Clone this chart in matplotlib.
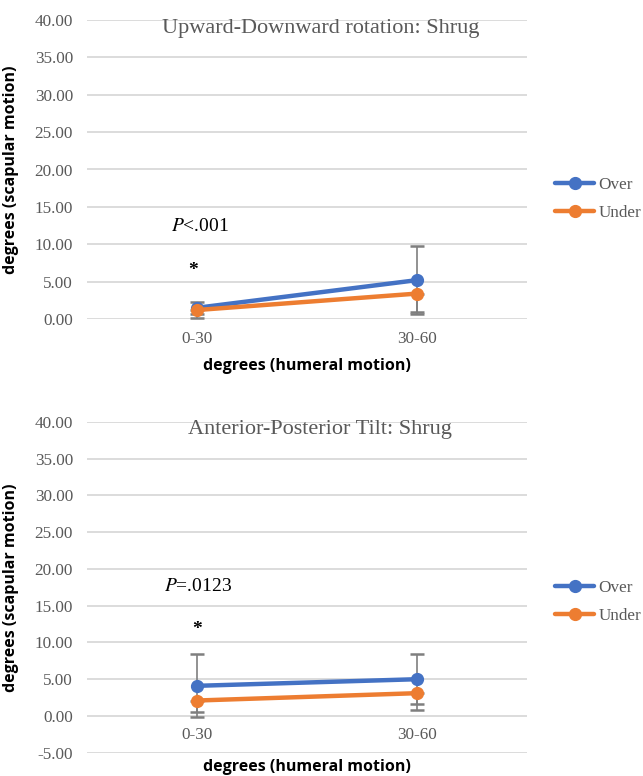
import matplotlib
matplotlib.use("Agg")
import matplotlib.pyplot as plt
from matplotlib.transforms import blended_transform_factory

categories = ["0-30", "30-60"]
series_names = ["Over", "Under"]

top_title = "Upward-Downward rotation: Shrug"
top_over = [1.5, 5.2]
top_over_err = [0.8, 4.5]          # symmetric (+/-)
top_under = [1.2, 3.4]
top_under_err_minus = [1.1, 2.5]   # minus only
top_p = "<.001"
top_yticks = [0, 5, 10, 15, 20, 25, 30, 35, 40]

bot_title = "Anterior-Posterior Tilt: Shrug"
bot_over = [4.1, 5.0]
bot_over_err = [4.3, 3.4]
bot_under = [2.1, 3.1]
bot_under_err_minus = [1.5, 2.3]
bot_p = "=.0123"
bot_yticks = [-5, 0, 5, 10, 15, 20, 25, 30, 35, 40]

xlabel = "degrees (humeral motion)"
ylabel = "degrees (scapular motion)"

BLUE = "#4472C4"
ORANGE = "#ED7D31"
GRID = "#D9D9D9"
TXT = "#595959"
ERR = "#7F7F7F"
SERIF = "Liberation Serif"
SANS = "Open Sans"

W, H = 643, 776
fig = plt.figure(figsize=(W / 100, H / 100), dpi=100)


def panel(rect, ylim, yticks, title, over, over_err, under, under_err_minus, ptext,
          p_xy, star_xy, title_y, label_y, legend_y, xlabel_y):
    ax = fig.add_axes(rect)
    x = list(range(len(categories)))
    ax.set_xlim(-0.5, len(categories) - 0.5)
    ax.set_ylim(*ylim)
    for s in ax.spines.values():
        s.set_visible(False)
    ax.set_yticks(yticks)
    ax.set_yticklabels([f"{v:.2f}" for v in yticks], fontfamily=SERIF,
                       fontsize=12.3, color=TXT)
    ax.tick_params(axis="y", length=0, pad=10)
    ax.set_xticks([])
    ax.grid(axis="y", color=GRID, linewidth=1.3)
    ax.set_axisbelow(True)
    # error bars
    ax.errorbar(x, over, yerr=over_err, fmt="none", ecolor=ERR,
                elinewidth=1.2, capsize=5, capthick=1.8, zorder=2)
    ax.errorbar(x, under, yerr=[under_err_minus, [0] * len(under)], fmt="none",
                ecolor=ERR, elinewidth=1.2, capsize=5, capthick=1.8, zorder=2)
    ax.plot(x, over, color=BLUE, lw=3.2, marker="o", ms=8.5, label=series_names[0],
            zorder=3, solid_capstyle="round")
    ax.plot(x, under, color=ORANGE, lw=3.2, marker="o", ms=8.5, label=series_names[1],
            zorder=4, solid_capstyle="round")
    # category labels
    for xi, c in zip(x, categories):
        ax.text(xi, label_y, c, ha="center", va="center", fontfamily=SERIF,
                fontsize=12.3, color=TXT, clip_on=False)
    bt = blended_transform_factory(ax.transAxes, ax.transData)
    ax.text(0.53, title_y, title, transform=bt, ha="center", va="center",
            fontfamily=SERIF, fontsize=16, color=TXT)
    ax.text(p_xy[0], p_xy[1], r"$\mathit{P}$" + ptext, transform=bt, ha="left",
            va="center", fontfamily=SERIF, fontsize=14, color="black",
            math_fontfamily="stix")
    ax.text(star_xy[0], star_xy[1], "*", transform=bt, ha="center", va="center",
            fontfamily=SERIF, fontsize=14, fontweight="bold", color="black")
    ax.set_ylabel(ylabel, fontfamily=SANS, fontweight="bold", fontsize=11.5,
                  color="black")
    ax.yaxis.set_label_coords(19 / W, 0.5, transform=None)
    ax.yaxis.label.set_transform(blended_transform_factory(fig.transFigure, ax.transAxes))
    ax.text(0.5, xlabel_y, xlabel, transform=bt, ha="center", va="center",
            fontfamily=SANS, fontweight="bold", fontsize=11.5, color="black",
            clip_on=False)
    leg = ax.legend(loc="center left", bbox_to_anchor=(555 / W, legend_y),
                    bbox_transform=fig.transFigure, frameon=False,
                    prop={"family": SERIF, "size": 12.3}, handlelength=2.3,
                    handletextpad=0.25, labelspacing=0.65, borderpad=0,
                    borderaxespad=0)
    for t in leg.get_texts():
        t.set_color(TXT)
    return ax


# top panel: y=0 at 319 px, y=40 at 20 px; x from 87 to 527
panel([87 / W, 1 - 319 / H, 440 / W, 299 / H], (0, 40), top_yticks, top_title,
      top_over, top_over_err, top_under, top_under_err_minus, top_p,
      p_xy=(0.191, 12.4), star_xy=(0.242, 6.5), title_y=38.9, label_y=-2.7,
      legend_y=1 - 199 / H, xlabel_y=-6.3)

# bottom panel: y=-5 at 752.7 px, y=40 at 422 px
panel([87 / W, 1 - 752.7 / H, 440 / W, 330.7 / H], (-5, 40), bot_yticks, bot_title,
      bot_over, bot_over_err, bot_under, bot_under_err_minus, bot_p,
      p_xy=(0.175, 17.6), star_xy=(0.25, 11.8), title_y=39.0, label_y=-2.6,
      legend_y=1 - 602 / H, xlabel_y=-7.0)

fig.savefig("out.png", dpi=100)
